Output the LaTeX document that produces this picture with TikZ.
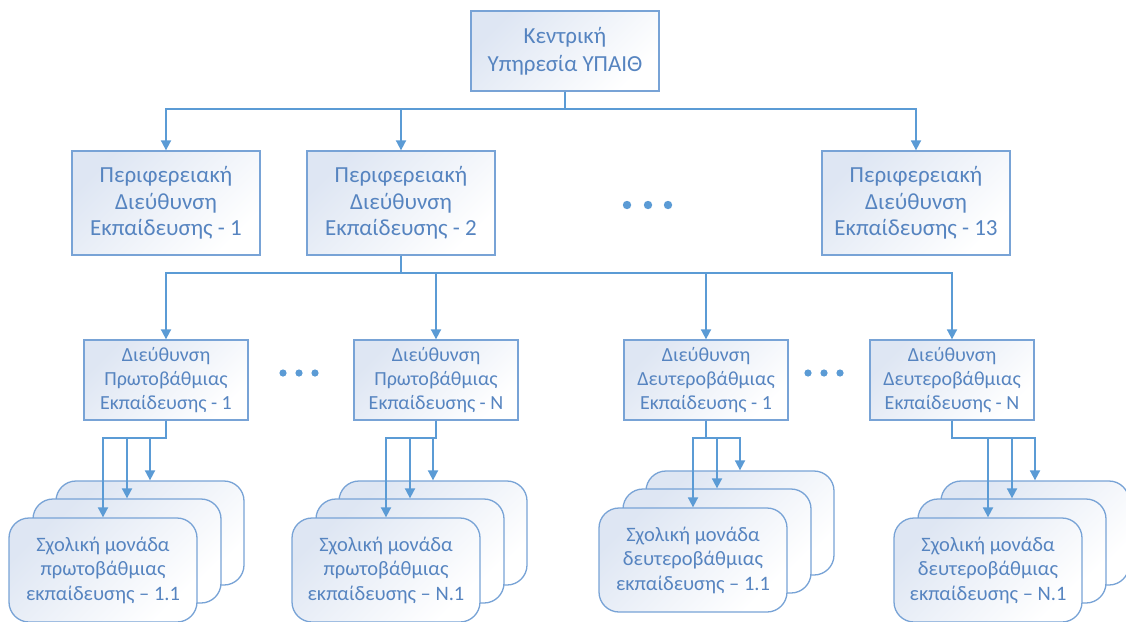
\documentclass[tikz,border=0pt]{standalone}
\usepackage{fontspec}
\setmainfont{Carlito}
\usetikzlibrary{arrows.meta}
\definecolor{boxline}{RGB}{120,163,214}
\definecolor{boxfill}{RGB}{222,230,243}
\definecolor{boxtext}{RGB}{86,132,192}
\definecolor{linkcol}{RGB}{91,155,213}

\begin{document}
\begin{tikzpicture}[x=1pt, y=-1pt,
    box/.style={draw=boxline, line width=1.3pt, top color=boxfill, bottom color=white,
                shading angle=45, text=boxtext, align=center, inner sep=0pt},
    ypaith/.style={box, minimum width=188pt, minimum height=80pt, font=\fontsize{23}{28}\selectfont},
    perif/.style={box, minimum width=188pt, minimum height=104pt, font=\fontsize{23}{26.5}\selectfont},
    dieu/.style={box, minimum width=164pt, minimum height=80pt, font=\fontsize{20}{24}\selectfont},
    sxol/.style={box, rounded corners=20pt, minimum width=188pt, minimum height=104pt, font=\fontsize{20.5}{24.5}\selectfont},
    link/.style={draw=linkcol, line width=1.8pt, -{Triangle[width=10pt,length=10pt]}}]
    \useasboundingbox (0,0) rectangle (1126,621);

    % top level
    \node[ypaith] (kentr) at (565,51) {Κεντρική\\Υπηρεσία ΥΠΑΙΘ};

    % regional directorates
    \node[perif] (pde1) at (166,203) {Περιφερειακή\\Διεύθυνση\\Εκπαίδευσης - 1};
    \node[perif] (pde2) at (401,203) {Περιφερειακή\\Διεύθυνση\\Εκπαίδευσης - 2};
    \node[perif] (pde13) at (916,203) {Περιφερειακή\\Διεύθυνση\\Εκπαίδευσης - 13};
    \foreach \x in {627,648,668} \fill[linkcol] (\x,205) circle (4.2);

    \foreach \n in {pde1,pde2,pde13}
        \draw[link] (kentr.south) -- ++(0,17) -| (\n.north);

    % directorates of primary / secondary education
    \node[dieu] (dpe1) at (166,380) {Διεύθυνση\\Πρωτοβάθμιας\\Εκπαίδευσης - 1};
    \node[dieu] (dpeN) at (436,380) {Διεύθυνση\\Πρωτοβάθμιας\\Εκπαίδευσης - N};
    \node[dieu] (dde1) at (706,380) {Διεύθυνση\\Δευτεροβάθμιας\\Εκπαίδευσης - 1};
    \node[dieu] (ddeN) at (952,380) {Διεύθυνση\\Δευτεροβάθμιας\\Εκπαίδευσης - N};
    \foreach \x in {283,299,315,808,824,840} \fill[linkcol] (\x,373) circle (3.6);

    \foreach \n in {dpe1,dpeN,dde1,ddeN}
        \draw[link] (pde2.south) -- ++(0,17) -| (\n.north);

    % school units (stacked)
    \foreach \nm/\cx/\cy/\up/\lvl/\num in {sa/103/570/dpe1/πρωτοβάθμιας/1.1,
                                           sb/386/570/dpeN/πρωτοβάθμιας/N.1,
                                           sc/693/560/dde1/δευτεροβάθμιας/1.1,
                                           sd/988/570/ddeN/δευτεροβάθμιας/N.1} {
        \node[sxol] (\nm3) at (\cx+47,\cy-37) {};
        \node[sxol] (\nm2) at (\cx+24,\cy-19) {};
        \node[sxol] (\nm1) at (\cx,\cy) {Σχολική μονάδα\\\lvl\\εκπαίδευσης – \num};
        \foreach \k in {1,2,3}
            \draw[link] (\up.south) -- ++(0,17) -| (\nm\k.north);
    }
\end{tikzpicture}
\end{document}
